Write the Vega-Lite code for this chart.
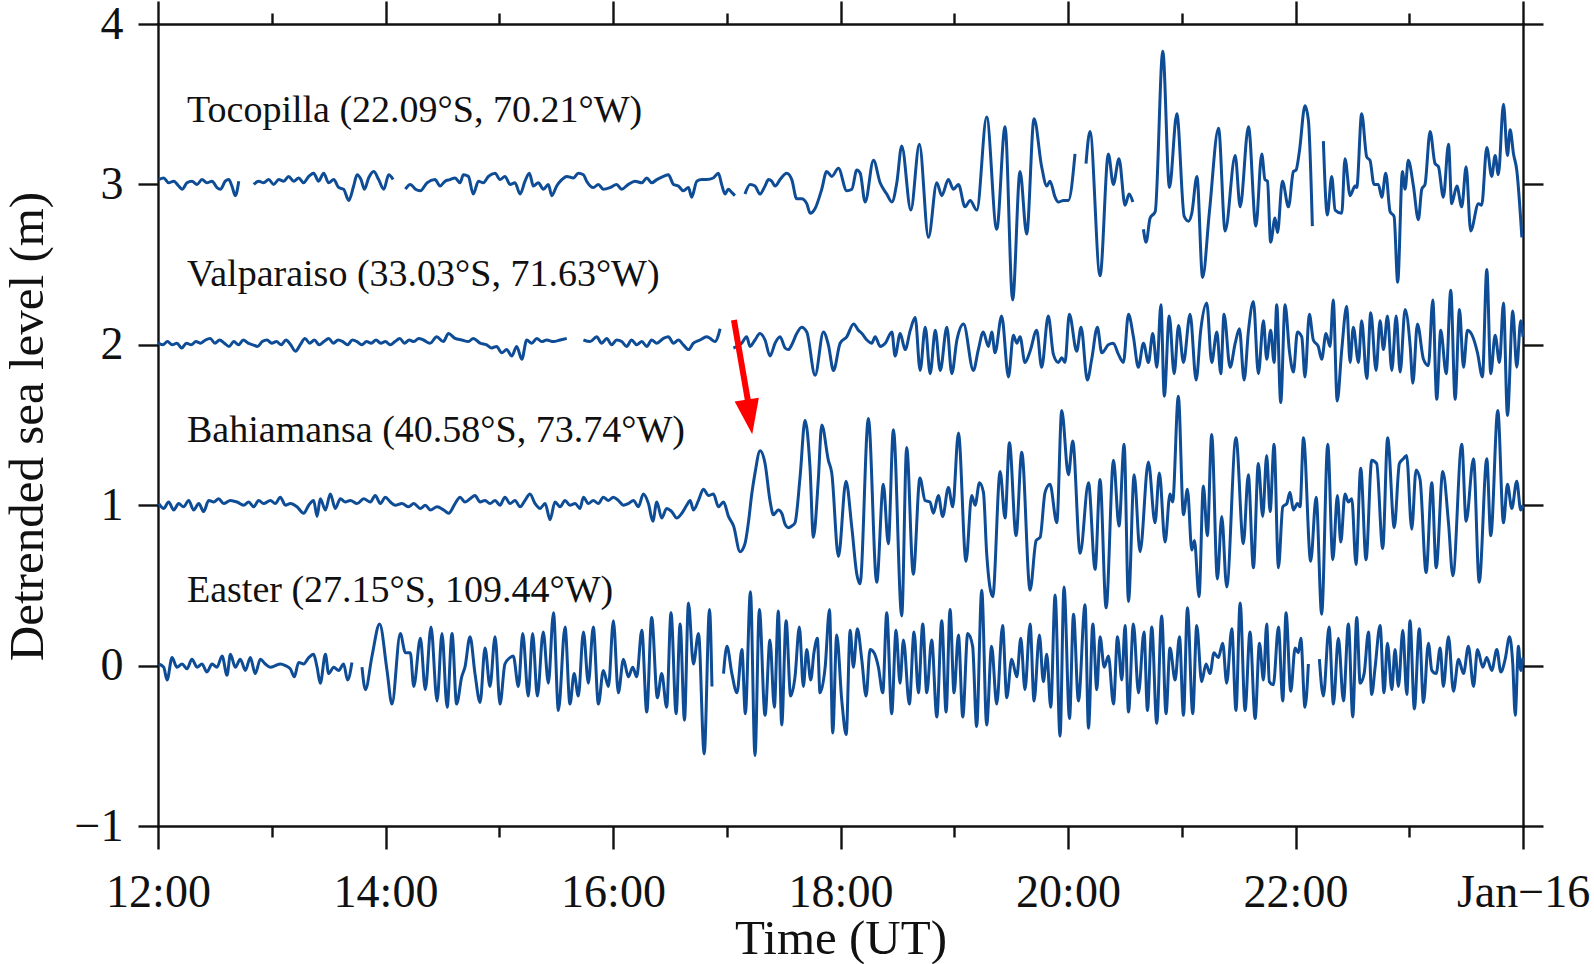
{
  "$schema": "https://vega.github.io/schema/vega-lite/v6.json",
  "width": 1365,
  "height": 802,
  "autosize": {"type": "none"},
  "padding": {"left": 158, "top": 24, "right": 71, "bottom": 138},
  "background": "white",
  "config": {
    "view": {"stroke": null},
    "font": "Liberation Serif",
    "axis": {
      "grid": false,
      "domainColor": "#111111",
      "tickColor": "#111111",
      "labelColor": "#111111",
      "titleColor": "#111111",
      "domainWidth": 2.4,
      "tickWidth": 2.4,
      "domainCap": "square",
      "labelFont": "Liberation Serif",
      "titleFont": "Liberation Serif",
      "titleFontWeight": "normal"
    }
  },
  "resolve": {"axis": {"x": "independent", "y": "independent"}},
  "datasets": {
    "toc": [
      {"m":0.4,"v":3.03},{"m":3.0,"v":3.04},{"m":5.6,"v":3.01},{"m":8.3,"v":3.02},{"m":10.9,"v":2.99},{"m":12.7,"v":2.97},{"m":15.3,"v":3.01},{"m":17.9,"v":3.02},{"m":20.6,"v":3.00},{"m":23.2,"v":3.03},{"m":25.8,"v":3.01},{"m":28.5,"v":3.02},{"m":31.1,"v":2.98},{"m":32.9,"v":2.97},{"m":35.5,"v":3.02},{"m":37.3,"v":3.03},{"m":39.0,"v":2.99},{"m":40.8,"v":2.93},{"m":42.6,"v":3.02},{"m":46,"v":null},
      {"m":50.5,"v":3.00},{"m":53.1,"v":3.02},{"m":55.7,"v":3.01},{"m":58.4,"v":3.03},{"m":61.0,"v":3.00},{"m":63.7,"v":3.03},{"m":66.3,"v":3.02},{"m":68.9,"v":3.05},{"m":71.6,"v":3.02},{"m":74.2,"v":3.04},{"m":76.8,"v":3.01},{"m":79.5,"v":3.05},{"m":82.1,"v":3.07},{"m":84.7,"v":3.02},{"m":87.4,"v":3.07},{"m":90.0,"v":3.01},{"m":92.7,"v":3.03},{"m":95.3,"v":2.98},{"m":97.9,"v":2.97},{"m":100.6,"v":2.90},{"m":103.2,"v":2.99},{"m":105.0,"v":3.06},{"m":107.1,"v":3.03},{"m":108.9,"v":2.97},{"m":111.1,"v":3.04},{"m":113.8,"v":3.08},{"m":116.4,"v":3.03},{"m":119.1,"v":2.97},{"m":121.7,"v":3.06},{"m":124.0,"v":3.03},{"m":127,"v":null},
      {"m":130.5,"v":2.97},{"m":133.1,"v":3.00},{"m":135.8,"v":2.97},{"m":138.4,"v":2.96},{"m":141.9,"v":3.01},{"m":146.1,"v":3.03},{"m":148.8,"v":2.99},{"m":151.4,"v":3.02},{"m":154.0,"v":3.03},{"m":156.7,"v":3.04},{"m":159.3,"v":3.01},{"m":161.1,"v":3.06},{"m":163.7,"v":3.05},{"m":166.3,"v":2.94},{"m":169.0,"v":3.02},{"m":171.6,"v":3.01},{"m":174.3,"v":3.05},{"m":177.8,"v":3.07},{"m":180.4,"v":3.03},{"m":183.0,"v":3.05},{"m":185.7,"v":3.00},{"m":188.3,"v":3.01},{"m":191.0,"v":2.94},{"m":193.6,"v":3.02},{"m":195.9,"v":3.07},{"m":198.0,"v":2.99},{"m":200.6,"v":3.01},{"m":203.3,"v":2.97},{"m":205.9,"v":3.00},{"m":207.7,"v":2.93},{"m":210.3,"v":2.99},{"m":213.0,"v":3.03},{"m":215.6,"v":3.05},{"m":219.1,"v":3.04},{"m":221.7,"v":3.07},{"m":224.4,"v":3.06},{"m":226.1,"v":3.02},{"m":229.6,"v":2.98},{"m":232.3,"v":3.00},{"m":234.9,"v":2.97},{"m":238.4,"v":2.98},{"m":241.9,"v":3.00},{"m":244.6,"v":2.97},{"m":248.1,"v":3.00},{"m":251.6,"v":3.02},{"m":255.2,"v":3.01},{"m":257.8,"v":3.04},{"m":260.4,"v":3.01},{"m":263.1,"v":3.03},{"m":266.6,"v":3.05},{"m":269.2,"v":3.06},{"m":271.9,"v":3.00},{"m":274.5,"v":2.99},{"m":277.1,"v":2.96},{"m":279.8,"v":2.98},{"m":281.5,"v":2.92},{"m":284.2,"v":3.02},{"m":286.8,"v":3.03},{"m":289.4,"v":3.03},{"m":292.9,"v":3.04},{"m":295.6,"v":3.07},{"m":297.3,"v":3.00},{"m":299.1,"v":2.94},{"m":300.8,"v":2.97},{"m":302.6,"v":2.95},{"m":304.3,"v":2.93},{"m":307,"v":null},
      {"m":309.6,"v":2.94},{"m":312.3,"v":3.00},{"m":314.9,"v":2.99},{"m":317.5,"v":2.94},{"m":320.2,"v":2.99},{"m":322.0,"v":3.03},{"m":323.7,"v":3.02},{"m":325.5,"v":2.99},{"m":328.1,"v":3.03},{"m":331.6,"v":3.07},{"m":334.3,"v":3.03},{"m":336.9,"v":2.91},{"m":339.5,"v":2.91},{"m":342.2,"v":2.88},{"m":344.0,"v":2.82},{"m":346.6,"v":2.85},{"m":350.1,"v":2.97},{"m":352.7,"v":3.08},{"m":355.4,"v":3.05},{"m":358.9,"v":3.10},{"m":363.3,"v":2.96},{"m":366.0,"v":2.97},{"m":368.6,"v":3.09},{"m":370.4,"v":3.07},{"m":373.0,"v":2.89},{"m":377.4,"v":3.15},{"m":380.9,"v":3.01},{"m":384.4,"v":2.94},{"m":387.1,"v":2.89},{"m":389.7,"v":3.01},{"m":392.3,"v":3.24},{"m":397.1,"v":2.84},{"m":401.6,"v":3.25},{"m":406.4,"v":2.67},{"m":410.8,"v":3.01},{"m":413.4,"v":2.93},{"m":416.9,"v":3.03},{"m":419.6,"v":2.97},{"m":422.2,"v":3.00},{"m":425.7,"v":2.86},{"m":428.4,"v":2.90},{"m":431.9,"v":2.84},{"m":437.1,"v":3.42},{"m":442.4,"v":2.72},{"m":446.8,"v":3.36},{"m":450.8,"v":2.28},{"m":454.7,"v":3.08},{"m":458.2,"v":2.69},{"m":462.1,"v":3.41},{"m":466.1,"v":3.11},{"m":468.8,"v":2.99},{"m":470.5,"v":3.02},{"m":473.2,"v":2.92},{"m":474.9,"v":2.89},{"m":477.6,"v":2.90},{"m":480.2,"v":2.90},{"m":483.7,"v":3.19},{"m":486,"v":null},
      {"m":489.5,"v":3.13},{"m":491.6,"v":3.33},{"m":496.9,"v":2.43},{"m":501.3,"v":3.19},{"m":503.9,"v":3.00},{"m":506.9,"v":3.16},{"m":510.1,"v":2.87},{"m":512.2,"v":2.94},{"m":514.2,"v":2.89},{"m":517,"v":null},
      {"m":519.8,"v":2.72},{"m":521.2,"v":2.64},{"m":523.3,"v":2.79},{"m":526.0,"v":2.83},{"m":530.0,"v":3.83},{"m":533.5,"v":2.98},{"m":537.4,"v":3.44},{"m":541.3,"v":2.80},{"m":543.6,"v":2.77},{"m":545.3,"v":2.82},{"m":548.0,"v":3.05},{"m":551.0,"v":2.42},{"m":554.6,"v":2.83},{"m":559.4,"v":3.35},{"m":562.9,"v":2.71},{"m":568.2,"v":3.18},{"m":570.8,"v":2.86},{"m":575.2,"v":3.36},{"m":579.1,"v":2.74},{"m":582.2,"v":3.19},{"m":583.9,"v":3.03},{"m":585.2,"v":3.02},{"m":586.9,"v":2.64},{"m":589.2,"v":2.79},{"m":590.5,"v":2.70},{"m":593.1,"v":3.02},{"m":596.3,"v":2.86},{"m":598.9,"v":3.08},{"m":600.3,"v":3.09},{"m":602.1,"v":3.21},{"m":605.0,"v":3.49},{"m":606.8,"v":3.40},{"m":608.9,"v":2.74},{"m":612,"v":null},
      {"m":614.7,"v":3.27},{"m":616.8,"v":2.81},{"m":619.1,"v":3.05},{"m":620.9,"v":2.84},{"m":624.4,"v":2.82},{"m":626.1,"v":3.16},{"m":628.8,"v":2.93},{"m":631.4,"v":2.99},{"m":632.3,"v":2.98},{"m":634.9,"v":3.44},{"m":637.6,"v":3.17},{"m":639.3,"v":3.15},{"m":641.4,"v":3.00},{"m":643.7,"v":3.00},{"m":645.5,"v":2.92},{"m":647.6,"v":3.07},{"m":649.9,"v":2.83},{"m":652.0,"v":2.80},{"m":653.9,"v":2.39},{"m":656.4,"v":3.08},{"m":657.8,"v":2.97},{"m":659.5,"v":3.15},{"m":662.2,"v":2.99},{"m":664.8,"v":2.78},{"m":666.6,"v":2.97},{"m":668.3,"v":3.00},{"m":671.0,"v":3.33},{"m":673.6,"v":3.13},{"m":675.4,"v":3.11},{"m":678.0,"v":2.92},{"m":680.7,"v":3.25},{"m":682.4,"v":2.88},{"m":685.1,"v":2.99},{"m":687.7,"v":2.86},{"m":690.0,"v":3.11},{"m":692.4,"v":2.71},{"m":696.5,"v":2.88},{"m":698.2,"v":2.87},{"m":700.9,"v":3.23},{"m":703.5,"v":3.05},{"m":705.3,"v":3.18},{"m":707.0,"v":3.06},{"m":709.7,"v":3.50},{"m":711.8,"v":3.18},{"m":713.2,"v":3.34},{"m":715.0,"v":3.19},{"m":716.7,"v":3.09},{"m":719.4,"v":2.67}
    ],
    "val": [
      {"m":0,"v":2.01},{"m":2.5,"v":2.00},{"m":5,"v":2.02},{"m":7.5,"v":2.00},{"m":10,"v":2.01},{"m":12.5,"v":1.98},{"m":15,"v":2.01},{"m":17.5,"v":2.00},{"m":20,"v":2.02},{"m":22.5,"v":2.01},{"m":25,"v":2.03},{"m":27.5,"v":2.04},{"m":30,"v":2.01},{"m":32.5,"v":2.03},{"m":35,"v":2.01},{"m":37.5,"v":1.99},{"m":40,"v":2.02},{"m":42.5,"v":2.00},{"m":45,"v":2.03},{"m":47.5,"v":2.01},{"m":50,"v":2.00},{"m":52.5,"v":1.99},{"m":55,"v":2.02},{"m":57.5,"v":2.03},{"m":60,"v":2.01},{"m":62.5,"v":2.02},{"m":65,"v":2.00},{"m":67.5,"v":2.03},{"m":70,"v":2.00},{"m":72.5,"v":1.96},{"m":75,"v":2.00},{"m":77.5,"v":2.04},{"m":80,"v":2.01},{"m":82.5,"v":2.03},{"m":85,"v":2.00},{"m":87.5,"v":2.02},{"m":90,"v":2.04},{"m":92.5,"v":2.01},{"m":95,"v":2.03},{"m":97.5,"v":2.02},{"m":100,"v":2.00},{"m":102.5,"v":2.03},{"m":105,"v":2.02},{"m":107.5,"v":2.00},{"m":110,"v":2.02},{"m":112.5,"v":2.01},{"m":115,"v":2.03},{"m":117.5,"v":2.01},{"m":120,"v":2.02},{"m":122.5,"v":2.00},{"m":125,"v":2.02},{"m":127.5,"v":2.04},{"m":130,"v":2.01},{"m":132.5,"v":2.03},{"m":135,"v":2.02},{"m":137.5,"v":2.04},{"m":140,"v":2.03},
      {"m":143.5,"v":2.01},{"m":147.0,"v":2.05},{"m":150.5,"v":2.02},{"m":153.2,"v":2.07},{"m":156.7,"v":2.04},{"m":160.2,"v":2.03},{"m":163.7,"v":2.02},{"m":166.3,"v":2.04},{"m":169.9,"v":2.01},{"m":173.4,"v":2.00},{"m":176.0,"v":1.98},{"m":178.6,"v":1.99},{"m":181.3,"v":1.95},{"m":183.9,"v":1.97},{"m":186.6,"v":1.93},{"m":189.2,"v":1.99},{"m":191.9,"v":1.91},{"m":194.5,"v":2.03},{"m":197.1,"v":2.01},{"m":199.8,"v":2.04},{"m":202.4,"v":2.02},{"m":205.0,"v":2.03},{"m":208.6,"v":2.02},{"m":212.1,"v":2.03},{"m":215.6,"v":2.04},{"m":219,"v":null},
      {"m":224.4,"v":2.03},{"m":227.9,"v":2.02},{"m":231.4,"v":2.05},{"m":234.0,"v":2.01},{"m":236.7,"v":2.04},{"m":239.3,"v":2.00},{"m":241.9,"v":2.03},{"m":244.6,"v":2.02},{"m":247.2,"v":1.99},{"m":249.8,"v":2.03},{"m":252.5,"v":2.00},{"m":255.2,"v":2.02},{"m":257.8,"v":1.99},{"m":260.4,"v":2.03},{"m":263.1,"v":2.01},{"m":266.6,"v":2.04},{"m":269.2,"v":2.05},{"m":271.9,"v":2.01},{"m":274.5,"v":2.03},{"m":277.1,"v":2.00},{"m":279.8,"v":1.97},{"m":282.4,"v":2.01},{"m":285.9,"v":2.03},{"m":289.4,"v":2.05},{"m":291.2,"v":2.04},{"m":293.8,"v":2.02},{"m":296.5,"v":2.10},{"m":299,"v":null},
      {"m":303.5,"v":1.98},{"m":307.9,"v":2.01},{"m":310.5,"v":2.05},{"m":312.3,"v":1.99},{"m":314.9,"v":2.03},{"m":317.5,"v":2.07},{"m":320.2,"v":2.03},{"m":322.8,"v":1.93},{"m":325.5,"v":2.01},{"m":328.1,"v":2.05},{"m":330.8,"v":1.98},{"m":332.5,"v":1.97},{"m":334.3,"v":2.00},{"m":336.9,"v":2.07},{"m":339.5,"v":2.11},{"m":342.2,"v":2.08},{"m":346.6,"v":1.81},{"m":351.0,"v":2.08},{"m":353.6,"v":2.00},{"m":356.3,"v":1.84},{"m":359.8,"v":2.01},{"m":363.3,"v":2.05},{"m":366.9,"v":2.13},{"m":369.5,"v":2.09},{"m":371.3,"v":2.07},{"m":373.9,"v":2.03},{"m":376.5,"v":2.01},{"m":378.3,"v":2.05},{"m":380.9,"v":1.99},{"m":383.6,"v":2.01},{"m":387.1,"v":2.08},{"m":388.8,"v":1.93},{"m":391.5,"v":2.07},{"m":394.1,"v":1.97},{"m":396.8,"v":2.09},{"m":399.4,"v":2.17},{"m":402.0,"v":1.84},{"m":404.7,"v":2.11},{"m":407.3,"v":1.82},{"m":410.0,"v":2.09},{"m":412.6,"v":1.84},{"m":416.1,"v":2.11},{"m":418.7,"v":1.82},{"m":421.4,"v":2.03},{"m":424.9,"v":2.13},{"m":430.1,"v":1.84},{"m":432.7,"v":1.97},{"m":435.3,"v":2.08},{"m":438.0,"v":1.99},{"m":439.8,"v":2.08},{"m":441.5,"v":1.95},{"m":445.0,"v":2.18},{"m":448.6,"v":1.80},{"m":451.2,"v":2.06},{"m":453.0,"v":2.01},{"m":454.7,"v":2.05},{"m":457.3,"v":1.89},{"m":460.0,"v":1.96},{"m":463.5,"v":2.09},{"m":466.1,"v":1.86},{"m":469.6,"v":2.18},{"m":472.3,"v":1.94},{"m":474.9,"v":1.89},{"m":476.7,"v":1.92},{"m":478.4,"v":1.89},{"m":480.7,"v":2.19},{"m":484.6,"v":1.96},{"m":486.9,"v":2.11},{"m":490.2,"v":1.78},{"m":492.5,"v":1.91},{"m":495.5,"v":2.11},{"m":497.8,"v":1.95},{"m":501.3,"v":2.00},{"m":503.9,"v":2.01},{"m":506.6,"v":1.94},{"m":509.2,"v":1.89},{"m":511.9,"v":2.19},{"m":514.5,"v":2.05},{"m":517.1,"v":1.86},{"m":519.8,"v":2.01},{"m":522.4,"v":1.89},{"m":524.7,"v":2.07},{"m":526.9,"v":1.86},{"m":529.0,"v":2.25},{"m":530.8,"v":1.68},{"m":533.4,"v":2.18},{"m":536.0,"v":1.82},{"m":538.3,"v":2.12},{"m":540.9,"v":1.89},{"m":544.4,"v":2.19},{"m":547.6,"v":1.78},{"m":550.0,"v":2.09},{"m":553.2,"v":2.26},{"m":555.8,"v":1.89},{"m":558.5,"v":2.08},{"m":560.6,"v":1.82},{"m":562.3,"v":2.19},{"m":565.5,"v":1.86},{"m":568.2,"v":2.01},{"m":570.4,"v":2.10},{"m":572.9,"v":1.78},{"m":575.2,"v":2.09},{"m":577.8,"v":2.27},{"m":580.4,"v":1.82},{"m":583.1,"v":2.15},{"m":584.8,"v":1.91},{"m":586.9,"v":2.09},{"m":588.7,"v":1.89},{"m":590.1,"v":2.25},{"m":592.2,"v":1.64},{"m":594.5,"v":2.25},{"m":596.8,"v":1.96},{"m":598.9,"v":1.83},{"m":601.0,"v":2.08},{"m":603.3,"v":2.05},{"m":605.0,"v":1.80},{"m":607.3,"v":2.19},{"m":609.4,"v":2.03},{"m":612.0,"v":1.99},{"m":613.8,"v":1.91},{"m":616.1,"v":2.07},{"m":618.2,"v":1.99},{"m":619.9,"v":2.28},{"m":622.0,"v":1.65},{"m":624.4,"v":1.97},{"m":627.0,"v":2.24},{"m":628.8,"v":1.89},{"m":630.5,"v":2.11},{"m":633.2,"v":1.89},{"m":634.9,"v":2.15},{"m":637.6,"v":1.79},{"m":639.7,"v":2.20},{"m":642.5,"v":1.84},{"m":644.6,"v":2.15},{"m":646.4,"v":1.97},{"m":648.5,"v":2.18},{"m":650.8,"v":1.84},{"m":653.1,"v":2.18},{"m":655.2,"v":1.83},{"m":657.8,"v":2.22},{"m":660.5,"v":1.99},{"m":661.9,"v":1.76},{"m":664.3,"v":2.13},{"m":667.5,"v":1.91},{"m":670.1,"v":1.87},{"m":672.4,"v":2.28},{"m":674.5,"v":1.66},{"m":676.6,"v":2.09},{"m":679.5,"v":1.82},{"m":681.9,"v":2.34},{"m":684.2,"v":1.66},{"m":686.5,"v":2.22},{"m":688.6,"v":1.86},{"m":690.7,"v":2.09},{"m":693.5,"v":2.05},{"m":696.0,"v":1.95},{"m":698.6,"v":1.80},{"m":700.9,"v":2.47},{"m":703.0,"v":1.82},{"m":705.3,"v":2.06},{"m":707.6,"v":1.89},{"m":709.7,"v":2.26},{"m":711.8,"v":1.56},{"m":714.6,"v":2.21},{"m":716.7,"v":1.86},{"m":718.8,"v":2.15},{"m":720,"v":2.05}
    ],
    "bah": [
      {"m":0.4,"v":1.01},{"m":3.0,"v":0.98},{"m":5.6,"v":1.02},{"m":8.3,"v":0.97},{"m":10.9,"v":1.01},{"m":13.5,"v":0.99},{"m":16.2,"v":1.03},{"m":18.8,"v":0.97},{"m":21.5,"v":1.01},{"m":24.1,"v":0.96},{"m":26.7,"v":1.03},{"m":29.4,"v":1.02},{"m":32.0,"v":1.04},{"m":34.6,"v":1.01},{"m":38.2,"v":1.03},{"m":41.7,"v":1.02},{"m":45.2,"v":1.00},{"m":47.8,"v":1.02},{"m":50.5,"v":0.99},{"m":53.1,"v":1.03},{"m":55.7,"v":1.01},{"m":59.3,"v":1.03},{"m":61.9,"v":1.01},{"m":64.5,"v":1.05},{"m":67.2,"v":1.00},{"m":69.8,"v":1.01},{"m":73.3,"v":0.99},{"m":76.8,"v":0.95},{"m":79.5,"v":1.00},{"m":82.1,"v":1.03},{"m":83.9,"v":0.93},{"m":85.6,"v":1.04},{"m":88.3,"v":0.97},{"m":90.9,"v":1.07},{"m":93.5,"v":0.98},{"m":96.2,"v":1.04},{"m":98.8,"v":1.02},{"m":101.5,"v":1.03},{"m":105.0,"v":1.01},{"m":108.5,"v":1.04},{"m":112.0,"v":1.02},{"m":114.6,"v":1.06},{"m":117.3,"v":1.01},{"m":119.9,"v":1.05},{"m":122.6,"v":1.02},{"m":125.2,"v":1.00},{"m":128.7,"v":1.01},{"m":132.2,"v":0.99},{"m":134.9,"v":1.01},{"m":138.4,"v":0.98},{"m":141.0,"v":1.00},{"m":143.7,"v":0.97},{"m":147.2,"v":0.99},{"m":150.7,"v":0.97},{"m":153.3,"v":0.95},{"m":156.7,"v":1.01},{"m":159.3,"v":1.05},{"m":161.9,"v":1.02},{"m":164.6,"v":1.04},{"m":167.2,"v":1.06},{"m":169.9,"v":1.02},{"m":172.5,"v":1.03},{"m":175.1,"v":1.01},{"m":177.8,"v":1.03},{"m":180.4,"v":1.00},{"m":183.0,"v":1.05},{"m":185.7,"v":1.01},{"m":188.3,"v":1.03},{"m":191.0,"v":0.99},{"m":193.6,"v":1.03},{"m":196.2,"v":1.07},{"m":198.9,"v":1.01},{"m":201.5,"v":0.98},{"m":204.2,"v":1.01},{"m":206.8,"v":0.91},{"m":209.4,"v":1.02},{"m":212.1,"v":0.99},{"m":214.7,"v":1.03},{"m":217.3,"v":1.00},{"m":220.0,"v":1.01},{"m":222.6,"v":0.98},{"m":224.4,"v":1.05},{"m":227.0,"v":1.01},{"m":229.6,"v":1.03},{"m":232.3,"v":1.01},{"m":234.9,"v":1.05},{"m":237.6,"v":1.03},{"m":240.2,"v":1.05},{"m":242.8,"v":1.03},{"m":245.5,"v":1.00},{"m":248.1,"v":1.01},{"m":250.8,"v":1.03},{"m":253.4,"v":0.99},{"m":256.0,"v":1.07},{"m":258.7,"v":1.01},{"m":261.0,"v":0.90},{"m":263.1,"v":1.02},{"m":265.7,"v":0.92},{"m":268.3,"v":0.98},{"m":271.0,"v":0.96},{"m":273.6,"v":0.92},{"m":276.3,"v":0.95},{"m":278.9,"v":1.00},{"m":280.7,"v":1.03},{"m":282.4,"v":0.97},{"m":285.1,"v":1.03},{"m":287.7,"v":1.10},{"m":290.4,"v":1.06},{"m":293.0,"v":1.07},{"m":295.6,"v":0.99},{"m":298.3,"v":1.02},{"m":300.9,"v":0.93},{"m":303.6,"v":0.87},{"m":307.0,"v":0.71},{"m":309.6,"v":0.76},{"m":311.4,"v":0.89},{"m":313.2,"v":1.07},{"m":314.9,"v":1.20},{"m":317.6,"v":1.34},{"m":320.2,"v":1.26},{"m":322.8,"v":1.03},{"m":324.6,"v":0.94},{"m":327.2,"v":0.97},{"m":329.0,"v":0.95},{"m":330.8,"v":0.88},{"m":332.5,"v":0.86},{"m":334.3,"v":0.87},{"m":336.0,"v":0.89},{"m":338.7,"v":1.18},{"m":341.3,"v":1.53},{"m":343.9,"v":1.24},{"m":345.7,"v":0.80},{"m":348.3,"v":1.16},{"m":350.1,"v":1.50},{"m":353.6,"v":1.28},{"m":355.4,"v":1.20},{"m":358.9,"v":0.68},{"m":362.9,"v":1.15},{"m":365.9,"v":0.87},{"m":368.6,"v":0.57},{"m":370.3,"v":0.51},{"m":374.7,"v":1.54},{"m":379.1,"v":0.52},{"m":382.6,"v":1.13},{"m":385.2,"v":0.76},{"m":387.9,"v":1.47},{"m":392.3,"v":0.31},{"m":394.9,"v":1.36},{"m":398.4,"v":0.57},{"m":401.9,"v":1.17},{"m":404.6,"v":1.03},{"m":407.2,"v":1.02},{"m":409.0,"v":0.95},{"m":411.6,"v":1.06},{"m":413.9,"v":0.93},{"m":416.9,"v":1.11},{"m":419.2,"v":0.99},{"m":422.2,"v":1.45},{"m":426.2,"v":0.65},{"m":429.2,"v":1.06},{"m":431.0,"v":1.00},{"m":433.3,"v":1.14},{"m":435.4,"v":1.08},{"m":437.1,"v":0.70},{"m":440.3,"v":0.43},{"m":444.2,"v":1.21},{"m":446.8,"v":0.92},{"m":449.1,"v":1.39},{"m":452.6,"v":0.81},{"m":455.6,"v":1.33},{"m":460.0,"v":0.47},{"m":463.2,"v":0.78},{"m":465.3,"v":0.80},{"m":467.9,"v":1.08},{"m":470.5,"v":1.13},{"m":474.1,"v":0.89},{"m":476.7,"v":1.59},{"m":480.2,"v":1.19},{"m":482.5,"v":1.40},{"m":486.4,"v":0.70},{"m":490.8,"v":1.14},{"m":494.3,"v":0.60},{"m":496.9,"v":1.16},{"m":500.1,"v":0.36},{"m":504.0,"v":1.28},{"m":506.9,"v":0.87},{"m":509.6,"v":1.38},{"m":511.9,"v":0.40},{"m":514.9,"v":1.19},{"m":518.0,"v":0.71},{"m":522.4,"v":1.27},{"m":525.9,"v":0.89},{"m":528.2,"v":1.20},{"m":531.2,"v":0.77},{"m":533.8,"v":1.07},{"m":535.2,"v":1.02},{"m":538.2,"v":1.68},{"m":540.9,"v":0.94},{"m":543.0,"v":1.10},{"m":545.3,"v":0.72},{"m":546.7,"v":0.78},{"m":549.1,"v":0.43},{"m":551.4,"v":1.12},{"m":553.5,"v":0.81},{"m":555.8,"v":1.44},{"m":558.8,"v":0.54},{"m":561.1,"v":0.93},{"m":563.7,"v":0.49},{"m":568.6,"v":1.42},{"m":572.5,"v":0.76},{"m":575.1,"v":1.19},{"m":577.8,"v":0.61},{"m":580.4,"v":1.26},{"m":582.7,"v":0.93},{"m":584.8,"v":1.31},{"m":586.6,"v":0.96},{"m":588.7,"v":1.38},{"m":591.0,"v":0.61},{"m":593.3,"v":0.99},{"m":595.4,"v":1.01},{"m":597.1,"v":1.08},{"m":598.9,"v":0.97},{"m":601.0,"v":1.01},{"m":602.4,"v":0.99},{"m":604.2,"v":1.42},{"m":608.0,"v":0.65},{"m":610.9,"v":1.05},{"m":613.8,"v":0.32},{"m":617.0,"v":1.38},{"m":619.7,"v":0.66},{"m":622.1,"v":1.06},{"m":623.9,"v":0.77},{"m":626.1,"v":1.07},{"m":627.9,"v":1.02},{"m":629.7,"v":1.04},{"m":631.9,"v":0.63},{"m":634.4,"v":1.23},{"m":637.2,"v":0.66},{"m":640.2,"v":1.28},{"m":642.8,"v":1.26},{"m":646.0,"v":0.73},{"m":648.6,"v":1.42},{"m":652.1,"v":0.86},{"m":654.8,"v":1.26},{"m":656.9,"v":1.29},{"m":658.6,"v":1.31},{"m":661.3,"v":0.85},{"m":663.6,"v":1.22},{"m":665.7,"v":1.16},{"m":668.9,"v":0.58},{"m":671.9,"v":1.14},{"m":674.2,"v":0.61},{"m":677.7,"v":1.21},{"m":680.7,"v":0.89},{"m":683.0,"v":0.56},{"m":687.7,"v":1.38},{"m":690.0,"v":0.90},{"m":693.9,"v":1.29},{"m":696.9,"v":0.52},{"m":700.9,"v":1.29},{"m":703.0,"v":0.81},{"m":706.7,"v":1.59},{"m":709.7,"v":0.89},{"m":711.8,"v":1.13},{"m":714.1,"v":0.98},{"m":716.7,"v":1.15},{"m":718.8,"v":0.97},{"m":720,"v":1.00}
    ],
    "eas": [
      {"m":0.4,"v":0.01},{"m":3.0,"v":-0.01},{"m":4.8,"v":-0.09},{"m":7.4,"v":0.05},{"m":10.0,"v":-0.01},{"m":12.7,"v":0.01},{"m":15.3,"v":-0.02},{"m":17.9,"v":0.04},{"m":20.6,"v":-0.01},{"m":23.2,"v":0.01},{"m":25.8,"v":-0.04},{"m":28.5,"v":0.01},{"m":31.1,"v":-0.01},{"m":33.8,"v":0.06},{"m":36.4,"v":-0.06},{"m":38.2,"v":0.07},{"m":40.8,"v":-0.01},{"m":43.4,"v":0.04},{"m":46.1,"v":-0.03},{"m":48.7,"v":0.05},{"m":51.3,"v":-0.05},{"m":54.0,"v":0.04},{"m":56.6,"v":0.01},{"m":59.3,"v":-0.01},{"m":61.9,"v":0.00},{"m":64.5,"v":0.01},{"m":67.2,"v":0.00},{"m":69.8,"v":-0.02},{"m":71.9,"v":-0.07},{"m":74.2,"v":0.02},{"m":76.8,"v":0.01},{"m":79.5,"v":0.05},{"m":82.1,"v":0.07},{"m":83.9,"v":-0.01},{"m":85.6,"v":-0.11},{"m":88.3,"v":0.07},{"m":90.0,"v":-0.05},{"m":92.7,"v":-0.01},{"m":95.3,"v":-0.03},{"m":97.9,"v":0.01},{"m":100.0,"v":-0.09},{"m":102.3,"v":0.02},{"m":105,"v":null},
      {"m":107.6,"v":-0.01},{"m":109.4,"v":-0.15},{"m":112.9,"v":0.06},{"m":116.9,"v":0.26},{"m":120.8,"v":-0.03},{"m":123.4,"v":-0.24},{"m":127.8,"v":0.20},{"m":130.5,"v":0.08},{"m":133.1,"v":0.08},{"m":134.9,"v":-0.13},{"m":138.4,"v":0.17},{"m":141.0,"v":-0.15},{"m":144.0,"v":0.24},{"m":147.2,"v":-0.22},{"m":149.8,"v":0.20},{"m":152.5,"v":-0.26},{"m":155.1,"v":0.20},{"m":157.5,"v":-0.24},{"m":160.2,"v":-0.07},{"m":161.9,"v":-0.01},{"m":164.6,"v":0.18},{"m":167.2,"v":-0.05},{"m":169.9,"v":-0.23},{"m":172.5,"v":0.11},{"m":175.1,"v":-0.13},{"m":177.8,"v":0.18},{"m":180.4,"v":-0.24},{"m":183.0,"v":0.01},{"m":185.7,"v":0.05},{"m":187.4,"v":0.06},{"m":190.1,"v":-0.13},{"m":192.4,"v":0.20},{"m":195.3,"v":-0.19},{"m":197.6,"v":0.20},{"m":200.1,"v":-0.19},{"m":203.2,"v":0.21},{"m":205.9,"v":-0.11},{"m":208.6,"v":0.33},{"m":211.2,"v":-0.28},{"m":214.7,"v":0.24},{"m":217.3,"v":-0.24},{"m":219.5,"v":-0.05},{"m":221.7,"v":-0.19},{"m":224.4,"v":0.21},{"m":227.0,"v":-0.11},{"m":229.6,"v":0.24},{"m":232.3,"v":-0.24},{"m":234.9,"v":-0.03},{"m":237.6,"v":-0.13},{"m":240.2,"v":0.28},{"m":242.8,"v":-0.17},{"m":245.5,"v":0.04},{"m":248.1,"v":-0.07},{"m":250.4,"v":-0.01},{"m":252.5,"v":-0.07},{"m":255.2,"v":0.22},{"m":257.8,"v":-0.29},{"m":260.4,"v":0.30},{"m":263.4,"v":-0.20},{"m":265.7,"v":-0.05},{"m":268.3,"v":-0.26},{"m":270.6,"v":0.33},{"m":273.3,"v":-0.30},{"m":275.4,"v":0.26},{"m":277.7,"v":-0.34},{"m":279.8,"v":0.39},{"m":282.4,"v":0.01},{"m":285.1,"v":0.20},{"m":288.1,"v":-0.55},{"m":290.9,"v":0.35},{"m":292.2,"v":-0.13},{"m":295,"v":null},
      {"m":298.3,"v":-0.05},{"m":300.1,"v":0.12},{"m":302.7,"v":-0.05},{"m":305.4,"v":-0.17},{"m":308.0,"v":0.10},{"m":309.8,"v":-0.30},{"m":312.5,"v":0.46},{"m":314.9,"v":-0.56},{"m":317.2,"v":0.35},{"m":320.2,"v":-0.31},{"m":322.8,"v":0.16},{"m":325.1,"v":-0.26},{"m":327.2,"v":0.34},{"m":329.0,"v":-0.37},{"m":331.3,"v":0.28},{"m":333.7,"v":-0.19},{"m":336.0,"v":-0.07},{"m":338.3,"v":0.24},{"m":340.4,"v":-0.13},{"m":342.2,"v":0.10},{"m":344.3,"v":-0.09},{"m":346.0,"v":0.08},{"m":347.8,"v":0.17},{"m":349.2,"v":-0.17},{"m":351.9,"v":-0.01},{"m":354.2,"v":0.35},{"m":355.9,"v":-0.42},{"m":358.0,"v":0.19},{"m":360.7,"v":-0.22},{"m":363.0,"v":-0.43},{"m":365.1,"v":0.22},{"m":366.8,"v":-0.01},{"m":368.9,"v":0.23},{"m":371.2,"v":0.04},{"m":373.5,"v":-0.19},{"m":375.6,"v":0.10},{"m":377.7,"v":0.08},{"m":380.0,"v":-0.01},{"m":382.3,"v":-0.17},{"m":384.4,"v":0.33},{"m":387.0,"v":-0.30},{"m":389.3,"v":0.22},{"m":391.4,"v":-0.11},{"m":393.2,"v":0.16},{"m":396.3,"v":-0.24},{"m":398.8,"v":0.21},{"m":401.1,"v":-0.17},{"m":403.4,"v":0.26},{"m":405.5,"v":-0.17},{"m":408.1,"v":0.16},{"m":410.8,"v":-0.32},{"m":413.4,"v":0.28},{"m":415.7,"v":-0.29},{"m":417.8,"v":0.35},{"m":419.9,"v":-0.17},{"m":422.2,"v":0.19},{"m":424.5,"v":-0.32},{"m":427.1,"v":0.20},{"m":429.7,"v":0.12},{"m":431.8,"v":-0.38},{"m":434.5,"v":0.47},{"m":437.1,"v":-0.37},{"m":439.7,"v":0.12},{"m":442.4,"v":-0.24},{"m":445.5,"v":0.25},{"m":447.7,"v":-0.20},{"m":450.3,"v":0.04},{"m":453.0,"v":-0.07},{"m":455.1,"v":0.17},{"m":457.3,"v":-0.15},{"m":460.0,"v":0.26},{"m":462.1,"v":-0.22},{"m":464.9,"v":0.19},{"m":467.0,"v":-0.10},{"m":468.8,"v":0.07},{"m":470.9,"v":-0.26},{"m":473.2,"v":0.44},{"m":475.8,"v":-0.44},{"m":477.9,"v":0.49},{"m":480.8,"v":-0.33},{"m":482.9,"v":0.32},{"m":485.5,"v":-0.22},{"m":489.0,"v":0.38},{"m":490.8,"v":-0.39},{"m":493.1,"v":0.26},{"m":495.2,"v":-0.15},{"m":496.9,"v":0.18},{"m":499.1,"v":-0.01},{"m":501.3,"v":0.06},{"m":504.0,"v":-0.24},{"m":506.1,"v":0.18},{"m":508.4,"v":-0.09},{"m":510.1,"v":0.25},{"m":511.9,"v":-0.29},{"m":514.5,"v":0.26},{"m":517.2,"v":-0.17},{"m":520.1,"v":0.21},{"m":521.9,"v":-0.28},{"m":524.2,"v":0.24},{"m":526.8,"v":-0.36},{"m":529.4,"v":0.31},{"m":531.7,"v":-0.30},{"m":533.8,"v":0.11},{"m":536.5,"v":-0.09},{"m":538.8,"v":0.18},{"m":540.9,"v":-0.31},{"m":543.0,"v":0.36},{"m":545.8,"v":-0.30},{"m":547.9,"v":0.25},{"m":550.5,"v":-0.10},{"m":552.8,"v":0.01},{"m":554.9,"v":-0.05},{"m":557.0,"v":0.08},{"m":559.3,"v":0.05},{"m":561.6,"v":0.14},{"m":563.7,"v":-0.11},{"m":566.4,"v":0.23},{"m":568.6,"v":-0.28},{"m":570.8,"v":0.39},{"m":573.4,"v":-0.28},{"m":576.0,"v":0.21},{"m":578.7,"v":-0.33},{"m":581.0,"v":0.14},{"m":583.1,"v":-0.09},{"m":584.8,"v":0.26},{"m":586.2,"v":-0.10},{"m":588.3,"v":-0.12},{"m":591.0,"v":0.24},{"m":593.3,"v":-0.22},{"m":595.0,"v":0.33},{"m":597.5,"v":-0.16},{"m":599.8,"v":0.11},{"m":601.5,"v":0.08},{"m":602.8,"v":0.17},{"m":605.0,"v":-0.26},{"m":606.8,"v":0.01},{"m":609.5,"v":null},
      {"m":612.6,"v":0.04},{"m":614.7,"v":-0.19},{"m":617.7,"v":0.24},{"m":620.0,"v":-0.24},{"m":622.6,"v":0.17},{"m":625.3,"v":-0.22},{"m":627.9,"v":0.26},{"m":630.2,"v":-0.32},{"m":632.3,"v":0.30},{"m":634.1,"v":-0.11},{"m":636.2,"v":-0.05},{"m":638.5,"v":0.21},{"m":640.2,"v":-0.18},{"m":642.0,"v":-0.01},{"m":644.6,"v":0.25},{"m":646.7,"v":-0.17},{"m":648.5,"v":0.14},{"m":650.8,"v":-0.15},{"m":652.5,"v":0.10},{"m":654.3,"v":-0.13},{"m":656.6,"v":0.22},{"m":658.7,"v":-0.18},{"m":660.4,"v":0.28},{"m":662.7,"v":-0.27},{"m":665.3,"v":0.23},{"m":667.5,"v":-0.23},{"m":670.1,"v":0.14},{"m":671.9,"v":-0.03},{"m":674.2,"v":-0.05},{"m":676.3,"v":0.11},{"m":678.0,"v":-0.13},{"m":680.7,"v":0.18},{"m":683.3,"v":-0.16},{"m":686.0,"v":0.04},{"m":688.6,"v":-0.05},{"m":691.2,"v":0.12},{"m":693.9,"v":-0.13},{"m":696.0,"v":0.10},{"m":698.8,"v":-0.01},{"m":700.9,"v":0.05},{"m":703.5,"v":-0.03},{"m":706.2,"v":0.10},{"m":708.3,"v":-0.04},{"m":710.6,"v":0.04},{"m":712.9,"v":0.18},{"m":714.6,"v":0.01},{"m":715.9,"v":-0.31},{"m":717.6,"v":0.12},{"m":718.8,"v":-0.03},{"m":720,"v":0.05}
    ]
  },
  "layer": [
    {
      "data": {"name": "toc"},
      "mark": {"type": "line", "color": "#0e4c96", "strokeWidth": 3, "strokeJoin": "round", "interpolate": "monotone", "invalid": "break-paths-filter-domains"},
      "encoding": {
        "x": {"field": "m", "type": "quantitative", "scale": {"domain": [0, 720], "nice": false, "zero": false},
          "axis": {"orient": "bottom", "values": [0, 120, 240, 360, 480, 600, 720], "tickSize": 23, "labelPadding": 21, "labelFontSize": 46, "labelFlush": false, "labelOverlap": false,
            "labelExpr": "datum.value == 720 ? 'Jan\u221216' : (12 + datum.value / 60) + ':00'",
            "title": "Time (UT)", "titleFontSize": 49, "titleBaseline": "alphabetic", "titleY": 127}},
        "y": {"field": "v", "type": "quantitative", "scale": {"domain": [-1, 4], "nice": false, "zero": false},
          "axis": {"orient": "left", "values": [-1, 0, 1, 2, 3, 4], "tickSize": 20, "labelPadding": 15, "labelFontSize": 46, "labelFlush": false, "labelOverlap": false,
            "labelExpr": "datum.value < 0 ? '\u2212' + (-datum.value) : '' + datum.value",
            "title": "Detrended sea level (m)", "titleFontSize": 49, "titleAngle": 270, "titleBaseline": "alphabetic", "titleAlign": "center", "titleX": -116, "titleY": 402}}
      }
    },
    {
      "data": {"name": "val"},
      "mark": {"type": "line", "color": "#0e4c96", "strokeWidth": 3, "strokeJoin": "round", "interpolate": "monotone", "invalid": "break-paths-filter-domains"},
      "encoding": {
        "x": {"field": "m", "type": "quantitative", "scale": {"domain": [0, 720], "nice": false, "zero": false},
          "axis": {"orient": "top", "values": [0, 120, 240, 360, 480, 600, 720], "tickSize": 23, "labels": false, "title": null}},
        "y": {"field": "v", "type": "quantitative", "scale": {"domain": [-1, 4], "nice": false, "zero": false},
          "axis": {"orient": "right", "values": [-1, 0, 1, 2, 3, 4], "tickSize": 20, "labels": false, "title": null}}
      }
    },
    {
      "data": {"name": "bah"},
      "mark": {"type": "line", "color": "#0e4c96", "strokeWidth": 3, "strokeJoin": "round", "interpolate": "monotone"},
      "encoding": {
        "x": {"field": "m", "type": "quantitative", "scale": {"domain": [0, 720], "nice": false, "zero": false},
          "axis": {"orient": "bottom", "values": [60, 180, 300, 420, 540, 660], "tickSize": 11, "labels": false, "domain": false, "title": null}},
        "y": {"field": "v", "type": "quantitative", "scale": {"domain": [-1, 4], "nice": false, "zero": false}, "axis": null}
      }
    },
    {
      "data": {"name": "eas"},
      "mark": {"type": "line", "color": "#0e4c96", "strokeWidth": 3, "strokeJoin": "round", "interpolate": "monotone", "invalid": "break-paths-filter-domains"},
      "encoding": {
        "x": {"field": "m", "type": "quantitative", "scale": {"domain": [0, 720], "nice": false, "zero": false},
          "axis": {"orient": "top", "values": [60, 180, 300, 420, 540, 660], "tickSize": 11, "labels": false, "domain": false, "title": null}},
        "y": {"field": "v", "type": "quantitative", "scale": {"domain": [-1, 4], "nice": false, "zero": false}, "axis": null}
      }
    },
    {
      "data": {"values": [{"m": 303.8, "v": 2.155, "m2": 311.2, "v2": 1.65}]},
      "mark": {"type": "rule", "color": "#ff0000", "strokeWidth": 6},
      "encoding": {
        "x": {"field": "m", "type": "quantitative", "scale": {"domain": [0, 720], "nice": false, "zero": false}, "axis": null},
        "y": {"field": "v", "type": "quantitative", "scale": {"domain": [-1, 4], "nice": false, "zero": false}, "axis": null},
        "x2": {"field": "m2"},
        "y2": {"field": "v2"}
      }
    },
    {
      "data": {"values": [{"m": 312.0, "v": 1.55}]},
      "mark": {"type": "point", "shape": "M -0.7 -1 L 0.7 -1 L 0 1 Z", "size": 1225, "filled": true, "color": "#ff0000", "opacity": 1, "angle": 351},
      "encoding": {
        "x": {"field": "m", "type": "quantitative", "scale": {"domain": [0, 720], "nice": false, "zero": false}, "axis": null},
        "y": {"field": "v", "type": "quantitative", "scale": {"domain": [-1, 4], "nice": false, "zero": false}, "axis": null}
      }
    },
    {
      "data": {"values": [
        {"m": 15.3, "v": 3.389, "t": "Tocopilla (22.09°S, 70.21°W)"},
        {"m": 15.3, "v": 2.368, "t": "Valparaiso (33.03°S, 71.63°W)"},
        {"m": 15.3, "v": 1.396, "t": "Bahiamansa (40.58°S, 73.74°W)"},
        {"m": 15.3, "v": 0.398, "t": "Easter (27.15°S, 109.44°W)"}
      ]},
      "mark": {"type": "text", "align": "left", "baseline": "alphabetic", "fontSize": 38, "font": "Liberation Serif", "color": "#111111"},
      "encoding": {
        "x": {"field": "m", "type": "quantitative", "scale": {"domain": [0, 720], "nice": false, "zero": false}, "axis": null},
        "y": {"field": "v", "type": "quantitative", "scale": {"domain": [-1, 4], "nice": false, "zero": false}, "axis": null},
        "text": {"field": "t"}
      }
    }
  ]
}
